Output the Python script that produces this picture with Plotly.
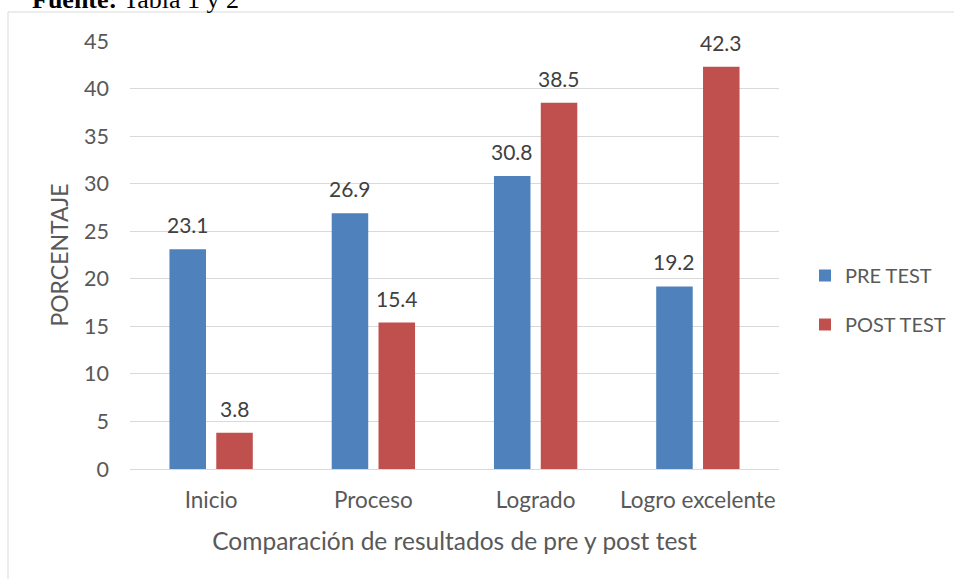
import plotly.graph_objects as go

categories = ["Inicio", "Proceso", "Logrado", "Logro excelente"]
pre_test = [23.1, 26.9, 30.8, 19.2]
post_test = [3.8, 15.4, 38.5, 42.3]
y_ticks = [0, 5, 10, 15, 20, 25, 30, 35, 40, 45]

BLUE = "#4F81BD"
RED = "#C0504D"
FONT = "Lato"

W, H = 955, 580
L, R, T, B = 130, 779, 41, 469  # plot area in pixels

def px_x(p):
    return (p - L) / (R - L)

def px_y(p):
    return (B - p) / (B - T)

fig = go.Figure()
fig.add_trace(go.Bar(name="PRE TEST", x=categories, y=pre_test,
                     marker=dict(color=BLUE, line=dict(width=0)),
                     legendgroup="pre"))
fig.add_trace(go.Bar(name="POST TEST", x=categories, y=post_test,
                     marker=dict(color=RED, line=dict(width=0)),
                     legendgroup="post"))

annotations = []
for series, off in ((pre_test, 0), (post_test, 1)):
    for i, v in enumerate(series):
        annotations.append(dict(
            x=i, y=v, xref="x", yref="y", text=f"{v:.1f}", showarrow=False,
            xanchor="center", yanchor="bottom", yshift=10,
            xshift=(-23.4 if off == 0 else 23.4),
            font=dict(family=FONT, size=21, color="#404040")))

annotations.append(dict(
    x=px_x(30), y=px_y(16), xref="paper", yref="paper",
    text="<b>Fuente:</b> Tabla 1 y 2", showarrow=False,
    xanchor="left", yanchor="bottom",
    font=dict(family="Liberation Serif", size=26, color="#000000")))

border = dict(color="#D9D9D9", width=1)
shapes = [
    dict(type="line", xref="paper", yref="paper",
         x0=px_x(8), y0=px_y(12), x1=px_x(954), y1=px_y(12), line=border,
         layer="below"),
    dict(type="line", xref="paper", yref="paper",
         x0=px_x(8), y0=px_y(12), x1=px_x(8), y1=px_y(579), line=border,
         layer="below"),
]

fig.update_layout(
    width=W, height=H,
    margin=dict(l=L, r=W - R, t=T, b=H - B, pad=0, autoexpand=False),
    paper_bgcolor="white", plot_bgcolor="white",
    barmode="group", bargap=0.423, bargroupgap=0.22,
    font=dict(family=FONT, color="#595959"),
    showlegend=True,
    legend=dict(x=px_x(805), y=px_y(300), xanchor="left", yanchor="middle",
                font=dict(family=FONT, size=20, color="#595959"),
                traceorder="grouped", tracegroupgap=20,
                bgcolor="rgba(0,0,0,0)"),
    annotations=annotations,
    shapes=shapes,
    xaxis=dict(
        showgrid=False, showline=True, linecolor="#D9D9D9", linewidth=1,
        ticks="", tickfont=dict(family=FONT, size=22.5, color="#595959"),
        ticklabelstandoff=11,
        title=dict(text="Comparación de resultados de pre y post test",
                   font=dict(family=FONT, size=24.5, color="#595959"),
                   standoff=20),
        automargin=False,
    ),
    yaxis=dict(
        range=[0, 45], tickvals=y_ticks, showgrid=True, gridcolor="#D9D9D9",
        gridwidth=1, zeroline=False, showline=False, ticks="",
        tickfont=dict(family=FONT, size=21.5, color="#595959"),
        ticklabelstandoff=20,
        title=dict(text="PORCENTAJE",
                   font=dict(family=FONT, size=23, color="#595959"),
                   standoff=8),
        automargin=False,
    ),
)

fig.write_html(
    "out.html",
    config={"displayModeBar": False},
    post_script="document.body.style.margin='0';document.body.style.overflow='hidden';document.documentElement.style.overflow='hidden';",
)
